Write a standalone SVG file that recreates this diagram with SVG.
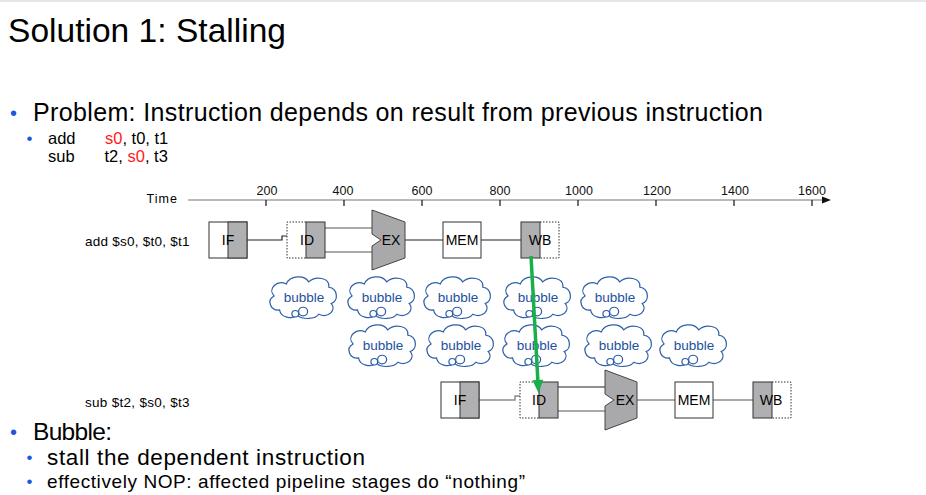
<svg xmlns="http://www.w3.org/2000/svg" xmlns:xlink="http://www.w3.org/1999/xlink" width="926" height="495" viewBox="0 0 926 495">
<style>
  text { font-family: "Liberation Sans", Arial, Helvetica, sans-serif; fill: #000; }
  .bul { fill: #1f56e0; }
  .red { fill: #ff1a1a; }
  .lbl { font-size: 14px; text-anchor: middle; }
  .tick { font-size: 12.5px; text-anchor: middle; fill: #111; }
  .box { fill: #fff; stroke: #333; stroke-width: 1; }
  .gray { fill: #b0b0b3; stroke: #333; stroke-width: 1; }
  .dot { fill: none; stroke: #333; stroke-width: 1; stroke-dasharray: 1.5 1.5; }
  .alu { fill: #a9a9ac; stroke: #444; stroke-width: 1; }
  .wk { stroke: #222; stroke-width: 1.2; fill: none; }
  .wg { stroke: #8c8c8c; stroke-width: 1.5; fill: none; }
  .cloud { fill: #fff; stroke: #2d5fa8; stroke-width: 1.1; }
  .btxt { font-size: 13.5px; fill: #1d4f9e; text-anchor: middle; }
  .code { font-size: 16.5px; }
</style>
<defs>
  <g id="bubble">
    <g transform="scale(1.12,1.08)">
      <path class="cloud" d="M -20,12 C -28,13 -32,3 -25,-1 C -31,-8 -22,-16 -14,-12 C -11,-20 2,-21 6,-14 C 12,-20 25,-18 24,-9 C 32,-8 33,4 26,6 C 31,12 24,20 15,16 C 12,21 0,21 -4,17 C -9,21 -19,19 -20,12 Z"/>
      <circle class="cloud" cx="-6" cy="15.5" r="3"/>
      <circle class="cloud" cx="1" cy="13.5" r="4"/>
    </g>
    <text class="btxt" x="2" y="5">bubble</text>
  </g>
</defs>
<rect x="0" y="0" width="926" height="495" fill="#fff"/>
<rect x="0" y="0" width="926" height="2" fill="#e6e6ea"/>

<g id="title">
  <text x="8" y="42" font-size="33.5" textLength="278">Solution 1: Stalling</text>
</g>

<g id="problem">
  <text class="bul" x="10" y="120" font-size="20">•</text>
  <text x="33" y="121" font-size="25" textLength="730" lengthAdjust="spacing">Problem: Instruction depends on result from previous instruction</text>
  <text class="bul" x="26.5" y="143.5" font-size="17">•</text>
  <text class="code" y="143.5"><tspan x="48">add</tspan></text>
  <text class="code" y="143.5"><tspan x="105" class="red">s0</tspan><tspan>, t0, t1</tspan></text>
  <text class="code" y="162"><tspan x="48">sub</tspan></text>
  <text class="code" y="162"><tspan x="104.5">t2, </tspan><tspan class="red">s0</tspan><tspan>, t3</tspan></text>
</g>

<g id="time-axis">
  <text x="146.5" y="202.5" font-size="12.5" textLength="30.5">Time</text>
  <line x1="188" y1="200" x2="824" y2="200" stroke="#777" stroke-width="1.2"/>
  <polygon points="831,200 822,196.5 822,203.5" fill="#111"/>
  <g stroke="#111" stroke-width="1.2">
    <line x1="266" y1="200" x2="266" y2="206"/>
    <line x1="344" y1="200" x2="344" y2="206"/>
    <line x1="422" y1="200" x2="422" y2="206"/>
    <line x1="500" y1="200" x2="500" y2="206"/>
    <line x1="578" y1="200" x2="578" y2="206"/>
    <line x1="656" y1="200" x2="656" y2="206"/>
    <line x1="734" y1="200" x2="734" y2="206"/>
    <line x1="812" y1="200" x2="812" y2="206"/>
  </g>
  <text class="tick" x="267" y="194.5">200</text>
  <text class="tick" x="343" y="194.5">400</text>
  <text class="tick" x="422" y="194.5">600</text>
  <text class="tick" x="500" y="194.5">800</text>
  <text class="tick" x="579" y="194.5">1000</text>
  <text class="tick" x="657" y="194.5">1200</text>
  <text class="tick" x="735" y="194.5">1400</text>
  <text class="tick" x="812" y="194.5">1600</text>
</g>

<g id="add-label"><text x="85" y="245.5" font-size="13.5" textLength="104.5">add $s0, $t0, $t1</text></g>
<g id="sub-label"><text x="85" y="406.5" font-size="13.5" textLength="104.5">sub $t2, $s0, $t3</text></g>

<g id="connectors">
  <path class="wk" d="M 247,240 H 282 V 236 H 287"/>
  <line class="wg" x1="325" y1="228" x2="372" y2="228"/>
  <line class="wg" x1="325" y1="252" x2="372" y2="252"/>
  <line class="wk" x1="405" y1="240" x2="443" y2="240"/>
  <line class="wk" x1="481" y1="240" x2="521" y2="240"/>
  <path class="wg" d="M 479,400 H 515 V 396 H 520"/>
  <line class="wk" x1="558" y1="387" x2="605" y2="387"/>
  <line class="wg" x1="558" y1="411" x2="605" y2="411"/>
  <line class="wg" x1="637" y1="400" x2="675" y2="400"/>
  <line class="wg" x1="713" y1="400" x2="753" y2="400"/>
</g>

<g id="add-IF">
  <rect class="box" x="209" y="222" width="38" height="36"/>
  <rect class="gray" x="228" y="222" width="19" height="36"/>
  <text class="lbl" x="228" y="245">IF</text>
</g>
<g id="add-ID">
  <rect class="gray" x="306" y="222" width="19" height="36"/>
  <path class="dot" d="M 306,222 H 287 V 258 H 306"/>
  <text class="lbl" x="307" y="245">ID</text>
</g>
<g id="add-EX">
  <polygon class="alu" points="372,210 405,222 405,258 372,270 372,246 381,240 372,234"/>
  <text class="lbl" x="391" y="245">EX</text>
</g>
<g id="add-MEM">
  <rect class="box" x="443" y="222" width="38" height="36"/>
  <text class="lbl" x="462" y="245">MEM</text>
</g>
<g id="add-WB">
  <rect class="gray" x="521" y="222" width="19" height="36"/>
  <path class="dot" d="M 540,222 H 559 V 258 H 540"/>
  <text class="lbl" x="540" y="245">WB</text>
</g>

<g id="bubbles">
  <use xlink:href="#bubble" href="#bubble" x="302" y="297"/>
  <use xlink:href="#bubble" href="#bubble" x="380" y="297"/>
  <use xlink:href="#bubble" href="#bubble" x="456" y="297"/>
  <use xlink:href="#bubble" href="#bubble" x="536" y="297"/>
  <use xlink:href="#bubble" href="#bubble" x="613" y="297"/>
  <use xlink:href="#bubble" href="#bubble" x="381" y="345"/>
  <use xlink:href="#bubble" href="#bubble" x="459" y="345"/>
  <use xlink:href="#bubble" href="#bubble" x="535" y="345"/>
  <use xlink:href="#bubble" href="#bubble" x="617" y="345"/>
  <use xlink:href="#bubble" href="#bubble" x="692" y="345"/>
</g>

<g id="sub-IF">
  <rect class="box" x="441" y="382" width="38" height="36"/>
  <rect class="gray" x="460" y="382" width="19" height="36"/>
  <text class="lbl" x="460" y="405">IF</text>
</g>
<g id="sub-ID">
  <rect class="gray" x="539" y="382" width="19" height="36"/>
  <path class="dot" d="M 539,382 H 520 V 418 H 539"/>
  <text class="lbl" x="539" y="405">ID</text>
</g>
<g id="sub-EX">
  <polygon class="alu" points="605,370 637,382 637,418 605,430 605,406 614,400 605,394"/>
  <text class="lbl" x="625" y="405">EX</text>
</g>
<g id="sub-MEM">
  <rect class="box" x="675" y="382" width="38" height="36"/>
  <text class="lbl" x="694" y="405">MEM</text>
</g>
<g id="sub-WB">
  <rect class="gray" x="753" y="382" width="19" height="36"/>
  <path class="dot" d="M 772,382 H 791 V 418 H 772"/>
  <text class="lbl" x="771" y="405">WB</text>
</g>

<g id="dependency-arrow">
  <line x1="531" y1="256" x2="537.9" y2="381" stroke="#17b04b" stroke-width="3.5"/>
  <polygon points="538.5,393 543.3,379.7 532.4,380.3" fill="#17b04b"/>
</g>

<g id="bubble-notes">
  <text class="bul" x="10" y="439" font-size="20">•</text>
  <text x="33" y="440" font-size="24.5" textLength="79">Bubble:</text>
  <text class="bul" x="26.5" y="463" font-size="17">•</text>
  <text x="47" y="465" font-size="22.5" textLength="318">stall the dependent instruction</text>
  <text class="bul" x="26.5" y="487" font-size="17">•</text>
  <text x="47" y="488" font-size="19" textLength="478">effectively NOP: affected pipeline stages do “nothing”</text>
</g>
</svg>
